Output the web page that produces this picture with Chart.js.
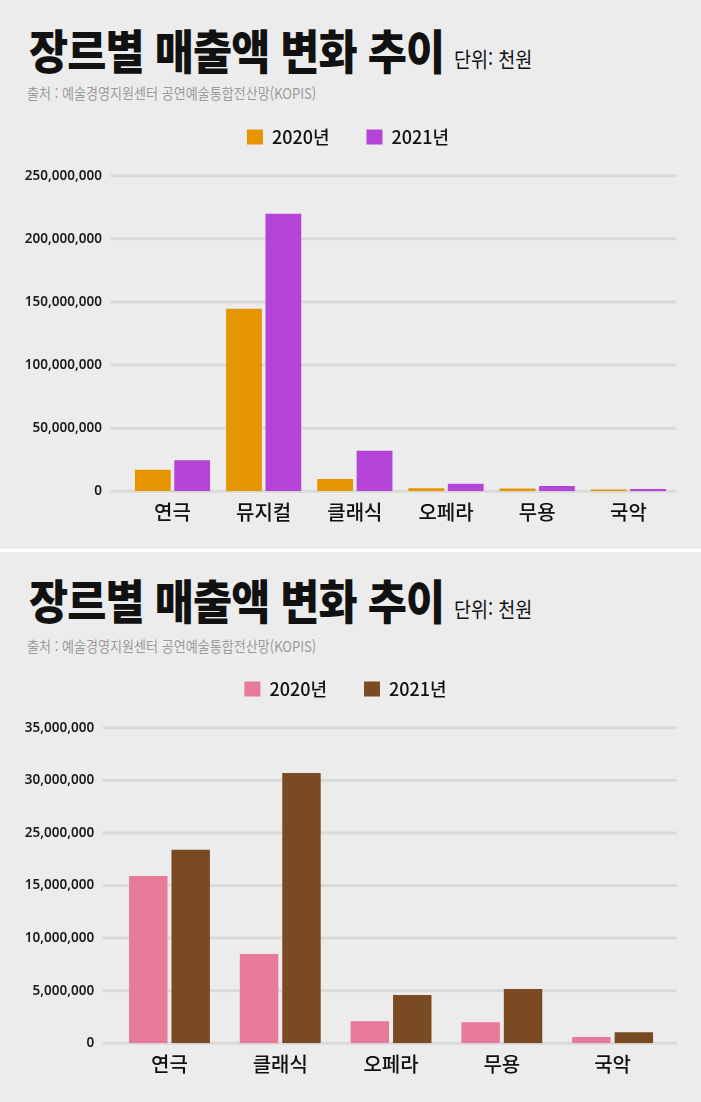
<!DOCTYPE html>
<html lang="ko">
<head>
<meta charset="utf-8">
<title>장르별 매출액 변화 추이</title>
<script src="https://cdn.jsdelivr.net/npm/chart.js@4.4.1/dist/chart.umd.min.js"></script>
<style>
    html, body { margin: 0; padding: 0; background: #ffffff; }
    body { width: 701px; height: 1102px; position: relative; overflow: hidden; font-family: 'Noto Sans CJK KR', 'Noto Sans', sans-serif; }
    .panel { position: absolute; left: 0; width: 701px; background: #ececec; overflow: hidden; }
    .title { position: absolute; left: 29px; top: 25.5px; font-size: 46.5px; line-height: 46.5px; font-weight: 900; color: #111; white-space: nowrap; transform: scaleX(0.915); transform-origin: 0 0; letter-spacing: -1px; }
    .unit { position: absolute; left: 454px; top: 48px; font-size: 21px; line-height: 21px; color: #111; white-space: nowrap; transform: scaleX(0.88); transform-origin: 0 0; }
    .source { position: absolute; left: 27px; top: 85px; font-size: 15px; line-height: 15px; color: #9b9b9b; white-space: nowrap; transform: scaleX(0.87); transform-origin: 0 0; }
    .panel canvas { position: absolute; left: 0; top: 91px; }
</style>
</head>
<body>

<div class="panel" style="top:0; height:549px;">
    <div class="title">장르별 매출액 변화 추이</div>
    <div class="unit">단위: 천원</div>
    <div class="source">출처 : 예술경영지원센터 공연예술통합전산망(KOPIS)</div>
    <canvas id="chart-all" width="701" height="454"></canvas>
</div>

<div class="panel" style="top:552px; height:550px;">
    <div class="title" style="top:23.5px;">장르별 매출액 변화 추이</div>
    <div class="unit" style="top:46px;">단위: 천원</div>
    <div class="source" style="top:86px;">출처 : 예술경영지원센터 공연예술통합전산망(KOPIS)</div>
    <canvas id="chart-no-musical" width="701" height="454"></canvas>
</div>

<script>
// ------------------- data (단위: 천원) -------------------
const seriesNames = ['2020년', '2021년'];

// top chart: all genres
const genresAll = ['연극', '뮤지컬', '클래식', '오페라', '무용', '국악'];
const sales2020All = [17100000, 144600000, 9700000, 2500000, 2300000, 1500000];
const sales2021All = [24500000, 219900000, 32200000, 6000000, 4200000, 1900000];
const yTicksAll = ['0', '50,000,000', '100,000,000', '150,000,000', '200,000,000', '250,000,000'];

// bottom chart: without 뮤지컬 (tick labels kept as printed)
const genresSmall = ['연극', '클래식', '오페라', '무용', '국악'];
const sales2020Small = [15900000, 8500000, 2100000, 2000000, 600000];
const sales2021Small = [18400000, 25700000, 4600000, 5150000, 1050000];
const yTicksSmall = ['0', '5,000,000', '10,000,000', '15,000,000', '25,000,000', '30,000,000', '35,000,000'];

// grid lines drawn a bit wider than the chart area, under the bars
const wideGrid = {
    id: 'wideGrid',
    beforeDatasetsDraw(chart, args, opts) {
        const ctx = chart.ctx;
        const area = chart.chartArea;
        const y = chart.scales.y;
        ctx.save();
        ctx.strokeStyle = opts.color;
        ctx.lineWidth = opts.width;
        y.ticks.forEach(t => {
            const py = y.getPixelForValue(t.value);
            ctx.beginPath();
            ctx.moveTo(area.left - opts.left, py);
            ctx.lineTo(area.right + opts.right, py);
            ctx.stroke();
        });
        ctx.restore();
    }
};

function makeChart(id, labels, d2020, d2021, colors, yMax, yStep, tickLabels, g) {
    const ctx = document.getElementById(id).getContext('2d');
    return new Chart(ctx, {
        type: 'bar',
        data: {
            labels: labels,
            datasets: [
                { label: seriesNames[0], data: d2020, backgroundColor: colors[0], borderWidth: 0 },
                { label: seriesNames[1], data: d2021, backgroundColor: colors[1], borderWidth: 0 }
            ]
        },
        options: {
            responsive: false,
            animation: false,
            layout: { padding: { left: g.padL, right: g.padR, top: 0, bottom: 0 } },
            datasets: { bar: { categoryPercentage: g.cat, barPercentage: g.bar } },
            plugins: {
                tooltip: { enabled: false },
                legend: {
                    labels: {
                        boxWidth: 16,
                        boxHeight: 15,
                        padding: 37,
                        color: '#111',
                        font: { family: "'Noto Sans CJK KR'", size: 18, weight: '500' }
                    }
                },
                wideGrid: { color: '#dadada', width: 3, left: g.extL, right: g.extR }
            },
            scales: {
                x: {
                    grid: { display: false, drawTicks: false },
                    border: { display: false },
                    ticks: { padding: 9, color: '#111', font: { family: "'Noto Sans CJK KR'", size: 20, weight: '500' } },
                    afterFit: s => { s.height = 53.7; }
                },
                // empty axis used as a spacer between legend and plot
                x2: {
                    position: 'top',
                    grid: { display: false, drawTicks: false },
                    border: { display: false },
                    ticks: { display: false },
                    afterFit: s => { s.height = 19.7; }
                },
                y: {
                    min: 0,
                    max: yMax,
                    grid: { display: false, drawTicks: false },
                    border: { display: false },
                    ticks: {
                        stepSize: yStep,
                        padding: g.tickPad,
                        color: '#1a1a1a',
                        font: { family: "'Noto Sans', 'Noto Sans CJK KR'", size: 13.5, weight: '600' },
                        callback: (v, i) => tickLabels[i]
                    },
                    afterFit: s => { s.width = g.yWidth; }
                }
            }
        },
        plugins: [wideGrid]
    });
}

makeChart('chart-all', genresAll, sales2020All, sales2021All, ['#e59500', '#b444d8'],
    250000000, 50000000, yTicksAll,
    { padL: 22, padR: 27, yWidth: 104.9, tickPad: 25, extL: 16.3, extR: 2.6, cat: 0.864, bar: 0.909 });

makeChart('chart-no-musical', genresSmall, sales2020Small, sales2021Small, ['#e87a99', '#7a4a22'],
    30000000, 5000000, yTicksSmall,
    { padL: 23, padR: 33, yWidth: 91.1, tickPad: 20, extL: 11.4, extR: 8.8, cat: 0.766, bar: 0.906 });
</script>
</body>
</html>
